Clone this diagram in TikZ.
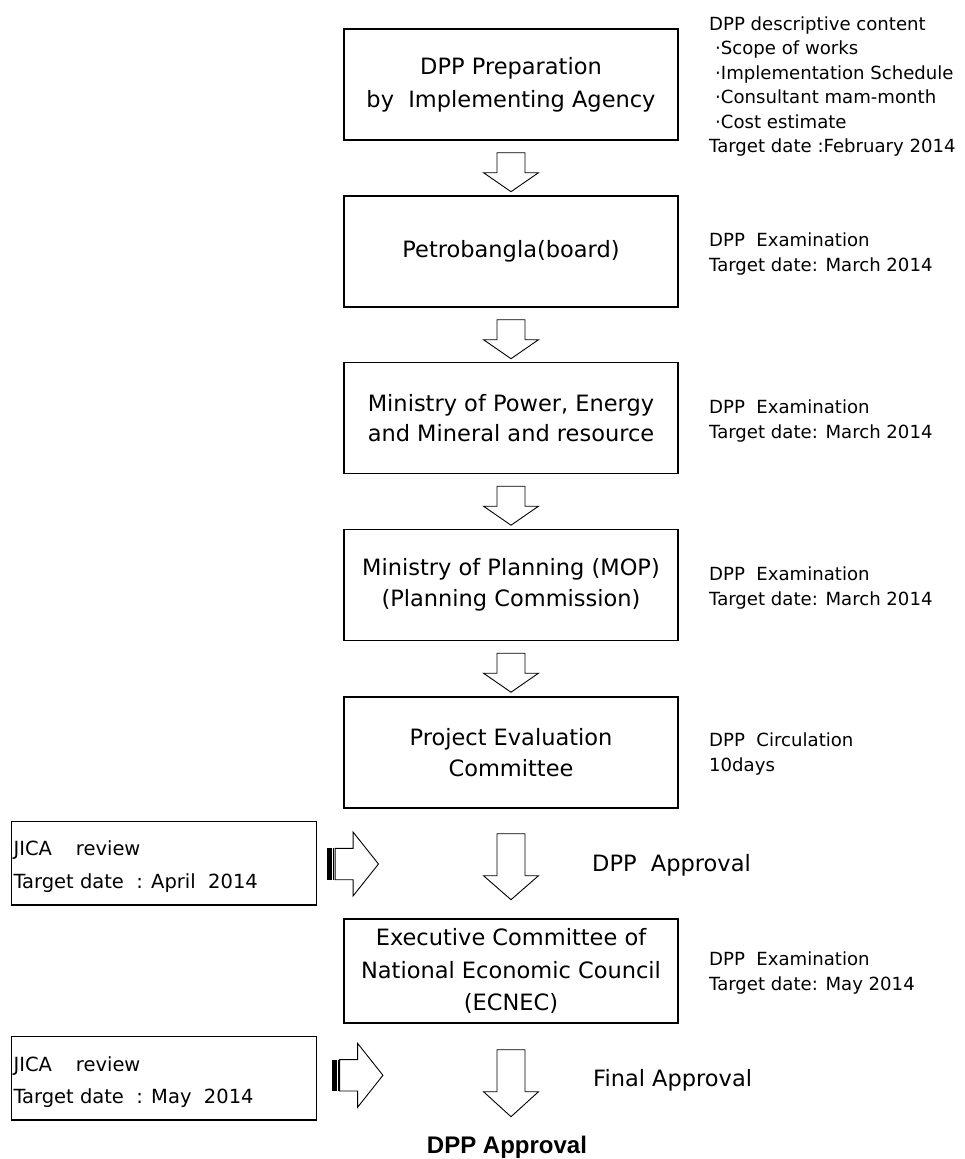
\documentclass[tikz,border=0pt]{standalone}
\usepackage{fontspec}
\setmainfont{DejaVu Sans}
\newfontfamily\lsans{Liberation Sans}
\usetikzlibrary{calc}
\tikzset{
  box/.style={draw, line width=1.4pt, minimum width=334pt, minimum height=111pt,
    inner sep=0pt, align=center, font=\fontsize{22.5}{31}\selectfont},
  jbox/.style={draw, line width=1.4pt, minimum width=304.5pt, minimum height=84pt, inner sep=0pt},
  side/.style={anchor=base west, inner sep=0pt, font=\fontsize{18.1}{24.5}\selectfont},
  jtext/.style={anchor=base west, inner sep=0pt, font=\fontsize{19.5}{24}\selectfont},
  lab/.style={anchor=base west, inner sep=0pt, font=\fontsize{22.5}{28}\selectfont},
  arr/.style={draw, line width=0.9pt, fill=white, line join=miter},
  pics/darrow/.style args={#1/#2}{code={
    \draw[arr] (-14,0) -- (14,0) -- (14,#2) -- (27.5,#2) -- (0,#1) -- (-27.5,#2) -- (-14,#2) -- cycle;}},
  pics/rarrow/.style={code={
    \fill (0,-15.7) rectangle (4.8,15.7);
    \draw[line width=0.9pt] (6.4,-15.7) -- (6.4,15.7);
    \draw[arr] (7.6,-15.7) -- (25.6,-15.7) -- (25.6,-32) -- (51,0) -- (25.6,32) -- (25.6,15.7) -- (7.6,15.7) -- cycle;}},
}
\begin{document}
\begin{tikzpicture}[x=1pt,y=-1pt]
\useasboundingbox (0,0) rectangle (964,1159);

% main boxes
\node[box, font=\fontsize{22.5}{33}\selectfont] (b1) at (511,84.5) {DPP Preparation\\by\ \ Implementing Agency};
\node[box] (b2) at (511,251.5) {Petrobangla(board)};
\node[box, font=\fontsize{22.5}{29.5}\selectfont] (b3) at (511,418) {Ministry of Power, Energy\\and Mineral and resource};
\node[box, font=\fontsize{22.5}{30.5}\selectfont] (b4) at (511,585) {Ministry of Planning (MOP)\\(Planning Commission)};
\node[box] (b5) at (511,752.5) {Project Evaluation\\Committee};
\node[box, minimum height=104pt, font=\fontsize{22.5}{32.5}\selectfont] (b6) at (511,971) {Executive Committee of\\National Economic Council\\(ECNEC)};

% down arrows
\pic at ($(b1.south)+(0,12)$) {darrow=39/20};
\pic at ($(b2.south)+(0,12)$) {darrow=39/20};
\pic at ($(b3.south)+(0,12)$) {darrow=39/20};
\pic at ($(b4.south)+(0,12)$) {darrow=39/20};
\pic at ($(b5.south)+(0,25)$) {darrow=66/42};
\pic at ($(b6.south)+(0,26)$) {darrow=67/42};

% JICA boxes
\node[jbox, minimum height=83.3pt] (j1) at (164,863.3) {};
\node[jbox, minimum height=83.3pt] (j2) at (164,1078.3) {};
\node[jtext] (j1a) at (13.3,855) {JICA\hspace{24pt}review};
\node[jtext] (j1b) at (13.3,888) {Target date\ \ : April\ \ 2014};
\node[jtext] (j2a) at (13.3,1071.7) {JICA\hspace{24pt}review};
\node[jtext] (j2b) at (13.3,1103.3) {Target date\ \ : May\ \ 2014};
\pic at ($(j1.east)+(10.5,0.7)$) {rarrow};
\pic at ($(j2.east)+(15,-3)$) {rarrow};

% approval labels
\node[lab] (ap1) at (592,871.7) {DPP\ \ Approval};
\node[lab] (ap2) at (593,1086.7) {Final Approval};
\node[anchor=base, inner sep=0pt, font=\lsans\bfseries\fontsize{24}{28}\selectfont] (fin) at (507,1153) {DPP Approval};

% side notes
\node[side] (s1a) at (709,30) {DPP descriptive content};
\node[side] (s1b) at (709,54.5) {\hspace*{6pt}·Scope of works};
\node[side] (s1c) at (709,79) {\hspace*{6pt}·Implementation Schedule};
\node[side] (s1d) at (709,103.5) {\hspace*{6pt}·Consultant mam-month};
\node[side] (s1e) at (709,128) {\hspace*{6pt}·Cost estimate};
\node[side] (s1f) at (709,152.5) {Target date :February 2014};

\node[side] (s2a) at (709,246.7) {DPP\ \ Examination};
\node[side] (s2b) at (709,271.7) {Target date: March 2014};
\node[side] (s3a) at (709,413.7) {DPP\ \ Examination};
\node[side] (s3b) at (709,438.7) {Target date: March 2014};
\node[side] (s4a) at (709,580.7) {DPP\ \ Examination};
\node[side] (s4b) at (709,605.7) {Target date: March 2014};
\node[side] (s5a) at (709,746) {DPP\ \ Circulation};
\node[side] (s5b) at (709,771) {10days};
\node[side] (s6a) at (709,965) {DPP\ \ Examination};
\node[side] (s6b) at (709,990) {Target date: May 2014};
\end{tikzpicture}
\end{document}
